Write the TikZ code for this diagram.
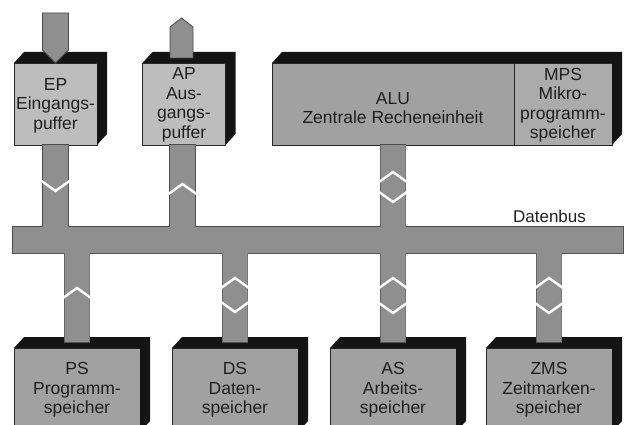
\documentclass[tikz,border=0pt]{standalone}
\usepackage{fontspec}
\setmainfont{Liberation Sans}
\usetikzlibrary{calc}
\definecolor{facelight}{gray}{0.74}
\definecolor{facemid}{gray}{0.63}
\definecolor{facemps}{gray}{0.67}
\definecolor{busgray}{gray}{0.56}
\definecolor{inkgray}{gray}{0.12}
\tikzset{
  face/.style={draw=black!85, line width=0.8, inner sep=0pt, outer sep=0pt,
    align=center, font=\fontsize{17.5}{19.5}\selectfont, text=inkgray},
  topbox/.style={face, fill=facelight, minimum width=83, minimum height=82},
  botbox/.style={face, fill=facemid, minimum width=126, minimum height=84},
  facetext/.style={inner sep=0pt, align=center, font=\fontsize{17.5}{19.5}\selectfont, text=inkgray},
  chev/.style={draw=white, line width=2.4},
  arrowshape/.style={fill=busgray, draw=black!70, line width=0.8},
  buslabel/.style={font=\fontsize{17}{19}\selectfont, text=inkgray, inner sep=0pt}
}
\newcommand\band[2]{%
  \fill[black!92] (#1.north west) -- ++(10,-11) -- ($(#2.north east)+(10,-11)$)
    -- ($(#2.south east)+(10,-11)$) -- (#2.south east) -- (#2.north east) -- cycle;}
\newcommand\chevup[2]{\draw[chev] ($(#1)+(-14,#2)$) -- ($(#1)+(0,#2-10)$) -- ($(#1)+(14,#2)$);}
\newcommand\chevdown[2]{\draw[chev] ($(#1)+(-14,#2)$) -- ($(#1)+(0,#2+10)$) -- ($(#1)+(14,#2)$);}
\newcommand\buspaths{%
  (bus.north west) rectangle (bus.south east)
  ($(ep.south)+(-12.5,0)$) rectangle ($(ep.south |- bus.north)+(12.5,1)$)
  ($(ap.south)+(-14,0)$) rectangle ($(ap.south |- bus.north)+(11,1)$)
  ($(alu.south)+(-12.5,0)$) rectangle ($(alu.south |- bus.north)+(12.5,1)$)
  ($(ps.north |- bus.south)+(-12.5,-1)$) rectangle ($(ps.north)+(12.5,-6)$)
  ($(ds.north |- bus.south)+(-12.5,-1)$) rectangle ($(ds.north)+(12.5,-6)$)
  ($(as.north |- bus.south)+(-12.5,-1)$) rectangle ($(as.north)+(12.5,-6)$)
  ($(zms.north |- bus.south)+(-12.5,-1)$) rectangle ($(zms.north)+(12.5,-6)$)}
\begin{document}
\begin{tikzpicture}[x=1pt,y=-1pt]
\fill[white] (0,0) rectangle (626,425);
\useasboundingbox (0,0) rectangle (626,425);
% boxes
\node[topbox] (ep) at (55.5,104) {};
\node[facetext] (eptxt) at ($(ep.center)+(0,1.5)$) {EP\\Eingangs-\\puffer};
\node[topbox] (ap) at (184,104) {};
\node[facetext] (aptxt) at ($(ap.center)+(0,1)$) {AP\\Aus-\\gangs-\\puffer};
\node[face, fill=facemid, minimum width=242, minimum height=82] (alu) at (393,104) {};
\node[facetext] (alutxt) at ($(alu.center)+(0,4)$) {ALU\\Zentrale Recheneinheit};
\node[face, fill=facemps, minimum width=98, minimum height=82] (mps) at (563,104) {};
\node[facetext] (mpstxt) at ($(mps.center)+(0,1)$) {MPS\\Mikro-\\programm-\\speicher};
\node[botbox] (ps) at (77,390) {PS\\Programm-\\speicher};
\node[botbox] (ds) at (235,390) {DS\\Daten-\\speicher};
\node[botbox] (as) at (393,390) {AS\\Arbeits-\\speicher};
\node[botbox] (zms) at (549,390) {ZMS\\Zeitmarken-\\speicher};
\node[inner sep=0pt, outer sep=0pt, minimum width=610, minimum height=26] (bus) at (318,240) {};
\node[buslabel] (lbl) at (549.5,216) {Datenbus};
% 3D bands
\band{ep}{ep}
\band{ap}{ap}
\band{alu}{mps}
\band{ps}{ps}
\band{ds}{ds}
\band{as}{as}
\band{zms}{zms}
% data bus with branches
\draw[line width=1.6, draw=black!70] \buspaths;
\fill[busgray] \buspaths;
% direction marks
\chevdown{ep.south}{36}
\chevup{$(ap.south)+(-1.5,0)$}{49}
\chevup{alu.south}{37}
\chevdown{alu.south}{47}
\chevup{ps.north}{-50}
\chevup{ds.north}{-60}
\chevdown{ds.north}{-46}
\chevup{as.north}{-60}
\chevdown{as.north}{-45}
\chevup{zms.north}{-60}
\chevdown{zms.north}{-45}
% input / output arrows
\filldraw[arrowshape] ($(ep.north)+(-13,-50)$) -- ($(ep.north)+(13,-50)$) -- ($(ep.north)+(13,-13)$)
  -- (ep.north) -- ($(ep.north)+(-13,-13)$) -- cycle;
\filldraw[arrowshape] ($(ap.north)+(-14,-5)$) -- ($(ap.north)+(-14,-36)$) -- ($(ap.north)+(-2.5,-45)$)
  -- ($(ap.north)+(9,-36)$) -- ($(ap.north)+(9,-5)$) -- cycle;
\end{tikzpicture}
\end{document}
